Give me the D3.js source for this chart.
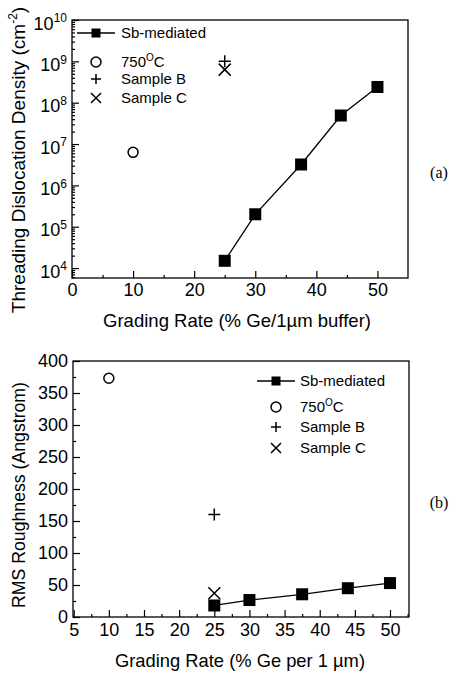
<!DOCTYPE html>
<html>
<head>
<meta charset="utf-8">
<script src="https://cdn.jsdelivr.net/npm/d3@7"></script>
<style>
  body { margin: 0; background: #fff; }
  text { font-family: "Liberation Sans", Arial, sans-serif; fill: #000; }
</style>
</head>
<body>
<div id="chart"></div>
<script>
// Datos Sb-mediated
const gradingSb = [25, 30, 37.5, 44, 50];
const tddSb = [1.5e4, 2e5, 3.2e6, 4.9e7, 2.4e8];
const rmsSb = [18, 26.5, 35.5, 45, 53];

// Otras muestras: 750C, Sample B, Sample C
const gradingOtros = [10, 25, 25];
const tddOtros = [6.3e6, 1e9, 6.3e8];
const rmsOtros = [373, 160, 37];
const simbolos = ['circle', 'plus', 'cross'];
const etiquetas = ['Sb-mediated', '750', 'Sample B', 'Sample C'];

// Ticks
const ticksXa = [0, 10, 20, 30, 40, 50];
const minorXa = [5, 15, 25, 35, 45];
const expYa = [4, 5, 6, 7, 8, 9, 10];
const ticksXb = [5, 10, 15, 20, 25, 30, 35, 40, 45, 50];
const minorXb = [7.5, 12.5, 17.5, 22.5, 27.5, 32.5, 37.5, 42.5, 47.5, 52.5];
const ticksYb = [0, 50, 100, 150, 200, 250, 300, 350, 400];
const minorYb = [25, 75, 125, 175, 225, 275, 325, 375];

const svg = d3.select("#chart").append("svg")
    .attr("width", 456).attr("height", 673);

// dibuja un marcador
function marcador(g, tipo, x, y, s) {
    if (tipo === 'square') {
        g.append("rect").attr("x", x - s / 2).attr("y", y - s / 2)
            .attr("width", s).attr("height", s).attr("fill", "#000");
    } else if (tipo === 'circle') {
        g.append("circle").attr("cx", x).attr("cy", y).attr("r", s / 2)
            .attr("fill", "none").attr("stroke", "#000").attr("stroke-width", 1.5);
    } else if (tipo === 'plus') {
        g.append("path").attr("d", `M${x - s / 2},${y}H${x + s / 2}M${x},${y - s / 2}V${y + s / 2}`)
            .attr("stroke", "#000").attr("stroke-width", 1.5);
    } else {
        const h = s / 2;
        g.append("path").attr("d", `M${x - h},${y - h}L${x + h},${y + h}M${x - h},${y + h}L${x + h},${y - h}`)
            .attr("stroke", "#000").attr("stroke-width", 1.5);
    }
}

function leyenda(g, x0, ys, lineX) {
    g.append("line").attr("x1", lineX[0]).attr("x2", lineX[1])
        .attr("y1", ys[0]).attr("y2", ys[0]).attr("stroke", "#000").attr("stroke-width", 1.5);
    marcador(g, 'square', (lineX[0] + lineX[1]) / 2, ys[0], 9);
    const symX = (lineX[0] + lineX[1]) / 2;
    simbolos.forEach((s, i) => marcador(g, s, symX, ys[i + 1], 10));
    etiquetas.forEach((t, i) => {
        const tx = g.append("text").attr("x", x0).attr("y", ys[i] + 5)
            .style("font-size", "15px").text(t);
        if (i === 1) {
            tx.append("tspan").attr("dy", -6).style("font-size", "10px").text("O");
            tx.append("tspan").attr("dy", 6).text("C");
        }
    });
}

function ejeTexto(g) {
    g.selectAll(".domain").remove();
    g.selectAll(".tick line").attr("stroke", "#000").attr("stroke-width", 1.2);
}

// ---------- Panel (a) ----------
const xa = d3.scaleLinear().domain([0, 55]).range([72, 408]);
const ya = d3.scaleLog().domain([Math.pow(10, 3.76), 1e10]).range([278, 20]);
const ga = svg.append("g");

const ejeXa = ga.append("g").attr("transform", "translate(0,278)")
    .call(d3.axisBottom(xa).tickValues(ticksXa).tickSize(-7).tickPadding(5));
ejeTexto(ejeXa);
ejeXa.selectAll("text").style("font-size", "18px");
ejeTexto(ga.append("g").attr("transform", "translate(0,278)")
    .call(d3.axisBottom(xa).tickValues(minorXa).tickSize(-3).tickFormat("")));

const minorYa = [];
for (let e = 3; e < 10; e++) for (let m = 2; m <= 9; m++) {
    const v = m * Math.pow(10, e);
    if (v > ya.domain()[0]) minorYa.push(v);
}
const ejeYa = ga.append("g").attr("transform", "translate(72,0)")
    .call(d3.axisLeft(ya).tickValues(expYa.map(e => Math.pow(10, e))).tickSize(-7).tickPadding(5).tickFormat(""));
ejeTexto(ejeYa);
ejeYa.selectAll(".tick text").each(function (d) {
    const t = d3.select(this).style("font-size", "18px").attr("dy", "0.5em");
    t.append("tspan").text("10");
    t.append("tspan").attr("dy", "-0.6em").style("font-size", "12px").text(Math.round(Math.log10(d)));
});
ejeTexto(ga.append("g").attr("transform", "translate(72,0)")
    .call(d3.axisLeft(ya).tickValues(minorYa).tickSize(-3).tickFormat("")));

ga.append("rect").attr("x", 72).attr("y", 20).attr("width", 336).attr("height", 258)
    .attr("fill", "none").attr("stroke", "#000").attr("stroke-width", 1.3);

ga.append("path").datum(gradingSb.map((g, i) => [g, tddSb[i]]))
    .attr("d", d3.line().x(d => xa(d[0])).y(d => ya(d[1])))
    .attr("fill", "none").attr("stroke", "#000").attr("stroke-width", 1.3);
gradingSb.forEach((g, i) => marcador(ga, 'square', xa(g), ya(tddSb[i]), 12));
gradingOtros.forEach((g, i) => marcador(ga, simbolos[i], xa(g), ya(tddOtros[i]), i === 0 ? 10 : 12));

leyenda(ga, 121, [33, 62, 79, 98], [77, 115]);

ga.append("text").attr("x", 237).attr("y", 327).attr("text-anchor", "middle")
    .style("font-size", "19px").attr("textLength", 268).attr("lengthAdjust", "spacingAndGlyphs")
    .text("Grading Rate (% Ge/1\u00b5m buffer)");
const tya = ga.append("text").attr("transform", "translate(25,160) rotate(-90)")
    .attr("text-anchor", "middle").style("font-size", "19px");
tya.append("tspan").text("Threading Dislocation Density (cm");
tya.append("tspan").attr("dy", -8).style("font-size", "12px").text("-2");
tya.append("tspan").attr("dy", 8).text(")");

ga.append("text").attr("x", 439).attr("y", 172).attr("dy", "0.35em").attr("text-anchor", "middle")
    .style("font-family", "'Liberation Serif', 'Times New Roman', serif").style("font-size", "16px").text("(a)");

// ---------- Panel (b) ----------
const xb = d3.scaleLinear().domain([4.9, 52.7]).range([73, 409]);
const yb = d3.scaleLinear().domain([0, 400]).range([617, 361]);
const gb = svg.append("g");

const ejeXb = gb.append("g").attr("transform", "translate(0,617)")
    .call(d3.axisBottom(xb).tickValues(ticksXb).tickSize(-7).tickPadding(6));
ejeTexto(ejeXb);
ejeXb.selectAll("text").style("font-size", "18px");
ejeTexto(gb.append("g").attr("transform", "translate(0,617)")
    .call(d3.axisBottom(xb).tickValues(minorXb).tickSize(-3).tickFormat("")));

const ejeYb = gb.append("g").attr("transform", "translate(73,0)")
    .call(d3.axisLeft(yb).tickValues(ticksYb).tickSize(-7).tickPadding(5));
ejeTexto(ejeYb);
ejeYb.selectAll("text").style("font-size", "18px");
ejeTexto(gb.append("g").attr("transform", "translate(73,0)")
    .call(d3.axisLeft(yb).tickValues(minorYb).tickSize(-3).tickFormat("")));

gb.append("rect").attr("x", 73).attr("y", 361).attr("width", 336).attr("height", 256)
    .attr("fill", "none").attr("stroke", "#000").attr("stroke-width", 1.3);

gb.append("path").datum(gradingSb.map((g, i) => [g, rmsSb[i]]))
    .attr("d", d3.line().x(d => xb(d[0])).y(d => yb(d[1])))
    .attr("fill", "none").attr("stroke", "#000").attr("stroke-width", 1.3);
gradingSb.forEach((g, i) => marcador(gb, 'square', xb(g), yb(rmsSb[i]), 12));
gradingOtros.forEach((g, i) => marcador(gb, simbolos[i], xb(g), yb(rmsOtros[i]), i === 0 ? 10 : 12));

leyenda(gb, 300, [381, 407, 427, 448], [257, 295]);

gb.append("text").attr("x", 240).attr("y", 667).attr("text-anchor", "middle")
    .style("font-size", "19px").attr("textLength", 250).attr("lengthAdjust", "spacingAndGlyphs")
    .text("Grading Rate (% Ge per 1 \u00b5m)");
gb.append("text").attr("transform", "translate(25,495) rotate(-90)")
    .attr("text-anchor", "middle").style("font-size", "19px")
    .attr("textLength", 226).attr("lengthAdjust", "spacingAndGlyphs")
    .text("RMS Roughness (Angstrom)");

gb.append("text").attr("x", 439).attr("y", 502).attr("dy", "0.35em").attr("text-anchor", "middle")
    .style("font-family", "'Liberation Serif', 'Times New Roman', serif").style("font-size", "16px").text("(b)");
</script>
</body>
</html>
